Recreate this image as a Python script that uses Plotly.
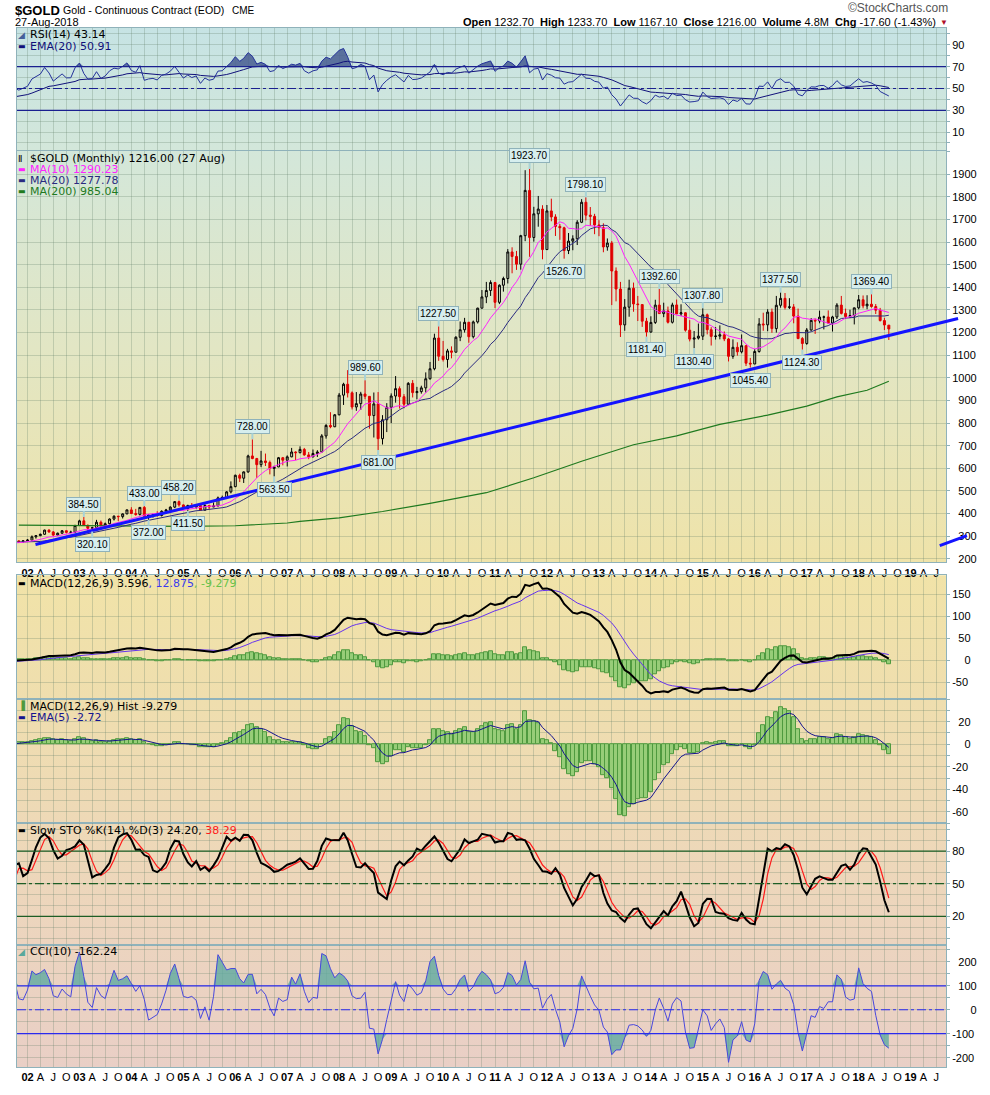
import base64
import numpy as np
import pandas as pd
import plotly.graph_objects as go
from plotly.subplots import make_subplots

# ------------------------------------------------------------------
# Monthly $GOLD bars, Jan 2000 .. Aug 2018
# (2000-01 .. 2001-10 is off screen, only used to warm up the indicators)
# ------------------------------------------------------------------
months = pd.date_range("2000-01-01", "2018-08-01", freq="MS")

opens = [
    288.5, 283.3, 293.7, 276.8, 275.1, 272.3, 288.2, 276.8, 277.0, 273.7, 264.5, 269.1,   # 2000
    272.7, 265.6, 266.7, 258.3, 264.0, 267.5, 270.6, 265.9, 273.0, 293.1, 278.9, 275.5,   # 2001
    279.0, 282.3, 296.9, 302.0, 308.2, 326.6, 318.5, 304.7, 312.8, 323.7, 316.9, 317.1,   # 2002
    347.2, 367.5, 347.5, 334.9, 336.8, 361.4, 346.0, 354.8, 375.6, 388.0, 386.3, 398.4,   # 2003
    416.1, 399.8, 395.9, 427.0, 387.5, 393.5, 395.8, 391.4, 409.8, 415.7, 428.3, 452.5,   # 2004
    438.0, 422.2, 435.5, 428.7, 435.0, 414.5, 435.5, 429.0, 433.3, 469.0, 470.8, 495.7,   # 2005
    518.9, 569.0, 556.0, 584.0, 654.5, 643.0, 616.0, 632.5, 625.5, 599.3, 606.0, 646.7,   # 2006
    635.7, 650.5, 672.0, 669.0, 683.5, 659.1, 650.5, 665.5, 672.0, 743.0, 789.5, 783.5,   # 2007
    836.5, 923.3, 971.5, 933.5, 871.0, 885.8, 928.3, 918.0, 833.0, 884.5, 730.8, 814.5,   # 2008
    869.8, 919.5, 952.0, 916.5, 883.3, 975.5, 934.5, 939.0, 955.5, 995.8, 1040.0, 1175.8,  # 2009
    1095.2, 1081.0, 1118.9, 1113.3, 1179.2, 1212.4, 1245.5, 1181.7, 1247.0, 1307.8, 1357.6, 1386.1,  # 2010
    1421.4, 1333.8, 1409.3, 1439.0, 1556.4, 1536.5, 1502.3, 1628.3, 1828.5, 1620.4, 1725.0, 1746.0,  # 2011
    1566.8, 1737.8, 1711.3, 1669.3, 1663.4, 1562.6, 1604.2, 1614.7, 1687.6, 1776.1, 1719.1, 1713.9,  # 2012
    1675.8, 1663.5, 1578.6, 1595.7, 1472.1, 1392.6, 1234.0, 1312.4, 1396.1, 1326.5, 1323.6, 1250.4,  # 2013
    1202.3, 1244.8, 1321.4, 1283.8, 1295.9, 1245.6, 1322.0, 1282.6, 1287.4, 1210.5, 1171.1, 1175.5,  # 2014
    1184.1, 1278.5, 1212.6, 1183.1, 1184.2, 1190.0, 1171.7, 1095.0, 1134.8, 1114.9, 1142.0, 1064.5,  # 2015
    1061.0, 1116.4, 1238.0, 1234.2, 1290.5, 1217.5, 1320.6, 1351.3, 1311.4, 1313.3, 1272.8, 1173.4,  # 2016
    1151.7, 1211.4, 1253.9, 1251.2, 1268.3, 1268.9, 1242.3, 1269.0, 1321.4, 1284.8, 1270.5, 1274.9,  # 2017
    1309.3, 1345.2, 1318.1, 1325.3, 1315.1, 1299.0, 1253.0, 1232.7,                                  # 2018
]
highs = [
    292.0, 318.0, 300.0, 286.0, 278.0, 294.0, 290.0, 281.0, 278.0, 275.0, 272.0, 275.0,
    274.0, 270.0, 268.0, 265.0, 294.0, 274.0, 272.0, 279.0, 295.0, 294.0, 282.0, 280.5,
    287.5, 303.0, 304.5, 311.0, 328.5, 330.0, 322.5, 316.0, 327.0, 326.0, 324.0, 350.0,
    372.5, 384.5, 352.0, 341.0, 372.0, 369.0, 360.0, 378.5, 392.0, 390.0, 400.5, 417.5,
    428.0, 420.5, 428.0, 433.0, 395.0, 399.0, 410.0, 414.0, 420.5, 431.5, 455.0, 458.2,
    440.0, 439.0, 446.5, 438.0, 437.0, 442.0, 436.0, 449.0, 475.0, 479.0, 499.0, 542.0,
    572.0, 576.0, 586.0, 660.0, 728.0, 646.0, 677.0, 665.0, 634.0, 611.0, 650.0, 650.0,
    657.0, 690.0, 675.0, 697.0, 690.0, 672.0, 683.0, 680.0, 751.0, 795.0, 848.0, 840.0,
    933.0, 978.0, 1033.9, 940.0, 937.0, 938.0, 989.6, 919.0, 935.0, 937.0, 835.0, 888.0,
    931.0, 1007.7, 962.0, 928.0, 981.0, 990.0, 960.0, 965.0, 1024.0, 1070.0, 1195.0, 1227.5,
    1163.0, 1128.0, 1139.0, 1184.0, 1249.0, 1265.0, 1247.0, 1253.0, 1310.0, 1388.0, 1424.0, 1431.0,
    1424.0, 1413.0, 1447.0, 1569.0, 1577.0, 1561.0, 1632.0, 1917.9, 1923.7, 1756.0, 1804.0, 1763.0,
    1764.0, 1792.0, 1723.0, 1680.0, 1668.0, 1640.0, 1630.0, 1697.0, 1790.0, 1798.1, 1755.0, 1725.0,
    1697.0, 1683.0, 1616.0, 1605.0, 1488.0, 1424.0, 1348.0, 1433.8, 1421.0, 1362.0, 1325.0, 1265.0,
    1272.0, 1345.0, 1392.6, 1332.0, 1315.0, 1332.0, 1346.0, 1325.0, 1290.0, 1255.0, 1207.0, 1240.0,
    1307.8, 1284.0, 1224.0, 1224.0, 1232.0, 1205.0, 1176.0, 1170.0, 1157.0, 1191.7, 1142.0, 1088.0,
    1127.0, 1263.9, 1287.8, 1303.0, 1306.0, 1362.0, 1377.5, 1375.0, 1352.0, 1326.0, 1306.0, 1180.0,
    1220.0, 1264.0, 1262.0, 1297.0, 1275.0, 1298.0, 1274.0, 1330.0, 1362.0, 1306.0, 1301.0, 1310.0,
    1366.0, 1364.0, 1365.0, 1369.4, 1326.0, 1309.0, 1265.0, 1233.7,
]
lows = [
    280.0, 282.0, 276.0, 273.0, 269.0, 271.0, 275.0, 270.0, 268.0, 263.0, 262.0, 267.0,
    263.0, 255.0, 255.0, 255.5, 263.0, 264.0, 263.0, 265.0, 270.0, 276.0, 271.5, 271.0,
    277.0, 282.0, 289.0, 300.3, 306.0, 315.0, 301.0, 302.0, 311.5, 312.0, 313.5, 316.0,
    345.5, 345.0, 323.0, 320.1, 335.0, 341.0, 341.5, 352.0, 369.0, 367.0, 378.0, 397.0,
    398.0, 390.0, 391.0, 386.0, 372.0, 382.0, 386.5, 387.0, 398.0, 410.0, 424.0, 430.0,
    419.0, 411.5, 424.0, 421.0, 413.0, 414.0, 417.0, 428.0, 433.0, 460.0, 464.0, 489.0,
    516.0, 539.0, 535.0, 580.0, 640.0, 558.0, 605.0, 610.0, 573.0, 563.5, 605.0, 613.0,
    608.0, 649.0, 636.0, 666.0, 655.0, 640.0, 648.0, 650.0, 672.0, 731.0, 777.0, 782.0,
    834.0, 880.0, 913.0, 860.0, 854.0, 858.0, 905.0, 775.0, 736.0, 681.0, 705.0, 760.0,
    800.0, 890.0, 864.0, 865.0, 882.0, 913.0, 905.0, 930.0, 935.0, 992.0, 1033.0, 1075.0,
    1072.0, 1045.0, 1086.0, 1112.0, 1162.0, 1200.0, 1155.0, 1174.0, 1240.0, 1307.0, 1330.0, 1362.0,
    1308.0, 1326.0, 1381.0, 1417.0, 1462.0, 1477.0, 1478.0, 1604.0, 1535.0, 1602.0, 1668.0, 1523.9,
    1565.0, 1692.0, 1627.0, 1610.0, 1526.7, 1547.0, 1564.0, 1587.0, 1684.0, 1696.0, 1672.0, 1635.0,
    1626.0, 1555.0, 1562.0, 1321.5, 1338.0, 1180.5, 1208.0, 1270.0, 1292.0, 1251.0, 1225.0, 1181.4,
    1200.0, 1238.0, 1283.0, 1268.0, 1240.0, 1240.0, 1282.0, 1273.0, 1204.0, 1161.0, 1130.4, 1169.0,
    1167.0, 1192.0, 1142.6, 1169.0, 1170.0, 1162.0, 1072.3, 1084.0, 1098.0, 1108.0, 1052.0, 1045.4,
    1061.0, 1111.0, 1208.0, 1206.0, 1199.0, 1200.0, 1310.0, 1302.0, 1304.0, 1241.0, 1171.0, 1124.3,
    1146.0, 1208.0, 1194.0, 1241.0, 1214.0, 1238.0, 1204.5, 1260.0, 1280.0, 1260.0, 1264.0, 1236.0,
    1303.0, 1307.0, 1303.0, 1310.0, 1282.0, 1249.0, 1211.0, 1167.1,
]
closes = [
    283.3, 293.7, 276.8, 275.1, 272.3, 288.2, 276.8, 277.0, 273.7, 264.5, 269.1, 272.7,
    265.6, 266.7, 258.3, 264.0, 267.5, 270.6, 265.9, 273.0, 293.1, 278.9, 275.5, 279.0,
    282.3, 296.9, 302.0, 308.2, 326.6, 318.5, 304.7, 312.8, 323.7, 316.9, 317.1, 347.2,
    367.5, 347.5, 334.9, 336.8, 361.4, 346.0, 354.8, 375.6, 388.0, 386.3, 398.4, 416.1,
    399.8, 395.9, 427.0, 387.5, 393.5, 395.8, 391.4, 409.8, 415.7, 428.3, 452.5, 438.0,
    422.2, 435.5, 428.7, 435.0, 414.5, 435.5, 429.0, 433.3, 469.0, 470.8, 495.7, 518.9,
    569.0, 556.0, 584.0, 654.5, 643.0, 616.0, 632.5, 625.5, 599.3, 606.0, 646.7, 635.7,
    650.5, 672.0, 669.0, 683.5, 659.1, 650.5, 665.5, 672.0, 743.0, 789.5, 783.5, 836.5,
    923.3, 971.5, 933.5, 871.0, 885.8, 928.3, 918.0, 833.0, 884.5, 730.8, 814.5, 869.8,
    919.5, 952.0, 916.5, 883.3, 975.5, 934.5, 939.0, 955.5, 995.8, 1040.0, 1175.8, 1095.2,
    1081.0, 1118.9, 1113.3, 1179.2, 1212.4, 1245.5, 1181.7, 1247.0, 1307.8, 1357.6, 1386.1, 1421.4,
    1333.8, 1409.3, 1439.0, 1556.4, 1536.5, 1502.3, 1628.3, 1828.5, 1620.4, 1725.0, 1746.0, 1566.8,
    1737.8, 1711.3, 1669.3, 1663.4, 1562.6, 1604.2, 1614.7, 1687.6, 1776.1, 1719.1, 1713.9, 1675.8,
    1663.5, 1578.6, 1595.7, 1472.1, 1392.6, 1234.0, 1312.4, 1396.1, 1326.5, 1323.6, 1250.4, 1202.3,
    1244.8, 1321.4, 1283.8, 1295.9, 1245.6, 1322.0, 1282.6, 1287.4, 1210.5, 1171.1, 1175.5, 1184.1,
    1278.5, 1212.6, 1183.1, 1184.2, 1190.0, 1171.7, 1095.0, 1134.8, 1114.9, 1142.0, 1064.5, 1061.0,
    1116.4, 1238.0, 1234.2, 1290.5, 1217.5, 1320.6, 1351.3, 1311.4, 1313.3, 1272.8, 1173.4, 1151.7,
    1211.4, 1253.9, 1251.2, 1268.3, 1268.9, 1242.3, 1269.0, 1321.4, 1284.8, 1270.5, 1274.9, 1309.3,
    1345.2, 1318.1, 1325.3, 1315.1, 1299.0, 1253.0, 1233.6, 1216.0,
]

# MA(200) (needs history from the 80s that is not on the chart)
ma200_dates = ["2001-11-01", "2003-01-01", "2004-01-01", "2005-01-01", "2006-01-01", "2007-01-01",
               "2007-04-01", "2008-01-01", "2008-11-01", "2009-10-01", "2010-11-01", "2011-10-01",
               "2012-09-01", "2013-09-01", "2014-07-01", "2015-05-01", "2016-04-01", "2017-01-01",
               "2017-08-01", "2018-03-01", "2018-08-01"]
ma200_values = [349, 347, 345, 343, 346, 358, 365, 381, 409, 445, 492, 558,
                631, 704, 743, 794, 835, 875, 916, 945, 985]

# swing high / low price labels
peak_dates = ["2003-02-01", "2004-04-01", "2004-12-01", "2006-05-01", "2008-07-01", "2009-12-01",
              "2011-09-01", "2012-10-01", "2014-03-01", "2015-01-01", "2016-07-01", "2018-04-01"]
peak_values = [384.5, 433.0, 458.2, 728.0, 989.6, 1227.5, 1923.7, 1798.1, 1392.6, 1307.8, 1377.5, 1369.4]
trough_dates = ["2003-04-01", "2004-05-01", "2005-02-01", "2006-10-01", "2008-10-01", "2012-05-01",
                "2013-12-01", "2014-11-01", "2015-12-01", "2016-12-01"]
trough_values = [320.1, 372.0, 411.5, 563.5, 681.0, 1526.7, 1181.4, 1130.4, 1045.4, 1124.3]

# hand drawn trend lines (date, price)
trend_dates = ["2002-02-26", "2019-12-01"]
trend_prices = [262.7, 1262.0]
stub_dates = ["2019-07-25", "2020-02-01"]
stub_prices = [258.0, 302.0]

# ------------------------------------------------------------------
# Indicators
# ------------------------------------------------------------------
c = pd.Series(closes, index=months)
h = pd.Series(highs, index=months)
l = pd.Series(lows, index=months)

ma10 = c.rolling(10).mean()
ma20 = c.rolling(20).mean()


def wilder_rsi(values, n=14):
    d = np.diff(values)
    g = np.where(d > 0, d, 0.0)
    lo = np.where(d < 0, -d, 0.0)
    out = np.full(len(values), np.nan)
    ag, al = g[:n].mean(), lo[:n].mean()
    out[n] = 100 - 100 / (1 + ag / al)
    for i in range(n, len(d)):
        ag = (ag * (n - 1) + g[i]) / n
        al = (al * (n - 1) + lo[i]) / n
        out[i + 1] = 100 - 100 / (1 + ag / al)
    return pd.Series(out, index=values.index)


rsi = wilder_rsi(c)
rsi_ema = rsi.ewm(span=20, adjust=False).mean()

macd = c.ewm(span=12, adjust=False).mean() - c.ewm(span=26, adjust=False).mean()
signal = macd.ewm(span=9, adjust=False).mean()
hist = macd - signal
hist_ema = hist.ewm(span=5, adjust=False).mean()

hh = h.rolling(14).max()
ll = l.rolling(14).min()
fast_k = 100 * (c - ll) / (hh - ll)
slow_k = fast_k.rolling(3).mean()
slow_d = slow_k.rolling(3).mean()

tp = (h + l + c) / 3
tp_md = tp.rolling(10).apply(lambda w: np.mean(np.abs(w - w.mean())), raw=True)
cci = (tp - tp.rolling(10).mean()) / (0.015 * tp_md)

# ------------------------------------------------------------------
# Page geometry (pixels of the 990 x 1095 page)
# ------------------------------------------------------------------
W, H = 990, 1095
PL, PR, PT, PB = 17, 946, 28, 1076


def px2x(px):
    return (px - PL) / (PR - PL)


def px2y(py):
    return (PB - py) / (PB - PT)


panel_px = [(28, 151), (152, 567), (580, 705), (705, 830), (830, 953), (953, 1076)]
y_ranges = [[-6.4, 105.5], [184, 2003], [-89, 194], [-70, 40], [-6.4, 105.7], [-239, 270]]
x_range = ["2001-10-19", "2019-09-07"]

x0_ts, x1_ts = pd.Timestamp(x_range[0]), pd.Timestamp(x_range[1])


def price2paper(d, v):
    # main panel data -> paper coordinates, so a drawn line may run past the frame
    fx = (pd.Timestamp(d) - x0_ts) / (x1_ts - x0_ts)
    lo_px, hi_px = px2y(panel_px[1][1]), px2y(panel_px[1][0])
    fy = lo_px + (v - y_ranges[1][0]) / (y_ranges[1][1] - y_ranges[1][0]) * (hi_px - lo_px)
    return fx, fy


GRID = "rgba(95,125,105,0.27)"
FRAME = "#8fb2ba"
LEGEND_FONT = "DejaVu Sans"

fig = make_subplots(rows=6, cols=1, shared_xaxes=True, vertical_spacing=0)


def band(row, series, base, color, above):
    s = series.where(series.notna(), base)
    clipped = np.maximum(s, base) if above else np.minimum(s, base)
    fig.add_trace(go.Scatter(x=months, y=[base] * len(months), mode="lines",
                             line=dict(width=0), hoverinfo="skip"), row=row, col=1)
    fig.add_trace(go.Scatter(x=months, y=clipped, mode="lines", line=dict(width=0),
                             fill="tonexty", fillcolor=color, hoverinfo="skip"), row=row, col=1)


# ---- RSI panel
band(1, rsi, 70, "rgba(70,92,145,0.85)", True)
band(1, rsi, 30, "rgba(70,92,145,0.85)", False)
fig.add_trace(go.Scatter(x=months, y=rsi_ema, mode="lines", line=dict(color="#10107a", width=1)), row=1, col=1)
fig.add_trace(go.Scatter(x=months, y=rsi, mode="lines", line=dict(color="#23319a", width=1)), row=1, col=1)

# ---- price panel
fig.add_trace(go.Scatter(x=ma200_dates, y=ma200_values, mode="lines",
                         line=dict(color="#1f7a1f", width=1.2)), row=2, col=1)
fig.add_trace(go.Scatter(x=months, y=ma20, mode="lines", line=dict(color="#2a2a80", width=1)), row=2, col=1)
fig.add_trace(go.Scatter(x=months, y=ma10, mode="lines", line=dict(color="#ff22ff", width=1)), row=2, col=1)
fig.add_trace(go.Candlestick(
    x=months, open=opens, high=highs, low=lows, close=closes, whiskerwidth=0,
    increasing=dict(line=dict(color="black", width=1), fillcolor="rgba(0,0,0,0)"),
    decreasing=dict(line=dict(color="#e00000", width=1), fillcolor="#e00000"),
), row=2, col=1)

# ---- MACD panel
fig.add_trace(go.Bar(x=months, y=hist, marker=dict(color="#97cd78", line=dict(color="#4f9a3f", width=1))),
              row=3, col=1)
fig.add_trace(go.Scatter(x=months, y=signal, mode="lines", line=dict(color="#6633ee", width=1)), row=3, col=1)
fig.add_trace(go.Scatter(x=months, y=macd, mode="lines", line=dict(color="black", width=2)), row=3, col=1)

# ---- MACD histogram panel
fig.add_trace(go.Bar(x=months, y=hist, marker=dict(color="#97cd78", line=dict(color="#4f9a3f", width=1))),
              row=4, col=1)
fig.add_trace(go.Scatter(x=months, y=hist_ema, mode="lines", line=dict(color="#14148f", width=1)), row=4, col=1)

# ---- slow stochastics
fig.add_trace(go.Scatter(x=months, y=slow_d, mode="lines", line=dict(color="#ff1a1a", width=1.2)), row=5, col=1)
fig.add_trace(go.Scatter(x=months, y=slow_k, mode="lines", line=dict(color="black", width=2)), row=5, col=1)

# ---- CCI
band(6, cci, 100, "rgba(95,170,160,0.8)", True)
band(6, cci, -100, "rgba(95,170,160,0.8)", False)
fig.add_trace(go.Scatter(x=months, y=cci, mode="lines", line=dict(color="#4848dd", width=1)), row=6, col=1)

# reference lines
for y, dash in [(70, "solid"), (50, "dashdot"), (30, "solid")]:
    fig.add_hline(y=y, line=dict(color="#1a2090", width=1.2, dash=dash), row=1, col=1)
for y, dash in [(80, "solid"), (50, "dashdot"), (20, "solid")]:
    fig.add_hline(y=y, line=dict(color="#1d5e24", width=1.2, dash=dash), row=5, col=1)
for y, dash in [(100, "solid"), (0, "dashdot"), (-100, "solid")]:
    fig.add_hline(y=y, line=dict(color="#2a2aee", width=1.2, dash=dash), row=6, col=1)

# trend lines (allowed to run over the price scale, like the original)
for dd, vv in [(trend_dates, trend_prices), (stub_dates, stub_prices)]:
    ax0, ay0 = price2paper(dd[0], vv[0])
    ax1, ay1 = price2paper(dd[1], vv[1])
    fig.add_shape(type="line", xref="paper", yref="paper", x0=ax0, y0=ay0, x1=ax1, y1=ay1,
                  line=dict(color="#1414ff", width=3))

# ------------------------------------------------------------------
# Axes
# ------------------------------------------------------------------
quarters = pd.date_range("2002-01-01", "2019-07-01", freq="QS")
q_text = []
for d in quarters:
    if d.month == 1:
        q_text.append("<b>%02d</b>" % (d.year % 100))
    else:
        q_text.append({4: "A", 7: "J", 10: "O"}[d.month])

fig.update_xaxes(range=x_range, tickvals=quarters, ticktext=q_text, showgrid=True, gridcolor=GRID,
                 gridwidth=1, showline=True, mirror=True, linecolor=FRAME, ticks="",
                 showticklabels=False, rangeslider_visible=False,
                 tickfont=dict(family="Liberation Sans", size=11, color="black"))
fig.update_xaxes(showticklabels=True, row=2, col=1)
fig.update_xaxes(showticklabels=True, row=6, col=1)


def pad(v, width):
    s = str(v)
    return "\u2007" * (width - len(s)) + s


tick_sets = [
    (list(range(0, 101, 10)), [10, 30, 50, 70, 90], 2),
    (list(range(200, 2001, 100)), list(range(200, 2000, 100)), 4),
    (list(range(-50, 151, 50)), list(range(-50, 151, 50)), 3),
    (list(range(-70, 41, 10)), [-60, -40, -20, 0, 20], 3),
    (list(range(0, 101, 10)), [20, 50, 80], 2),
    (list(range(-200, 251, 50)), [-200, -100, 0, 100, 200], 4),
]
for i, ((top, bot), rng, (vals, shown, w)) in enumerate(zip(panel_px, y_ranges, tick_sets)):
    fig.update_yaxes(domain=[px2y(bot), px2y(top)], range=rng, side="right",
                     tickvals=vals, ticktext=[pad(v, w) if v in shown else "" for v in vals],
                     showgrid=True, gridcolor=GRID, zeroline=False, showline=True, mirror=True,
                     linecolor=FRAME, ticks="outside", ticklen=3, tickcolor=FRAME,
                     tickfont=dict(family="Liberation Sans", size=11, color="black"),
                     row=i + 1, col=1)

# ------------------------------------------------------------------
# Background gradient + white label strip
# ------------------------------------------------------------------
grad_px = [28, 150, 350, 567, 580, 705, 830, 953, 1076]
grad_col = ["#c6e3e4", "#d3e7da", "#e2e6c4", "#efe3a9", "#f1e3a8", "#efdeae", "#eed9b7", "#ecd4bf", "#e9cfc6"]
stops = "".join("<stop offset='%.4f' stop-color='%s'/>" % ((p - PT) / (PB - PT), col)
                for p, col in zip(grad_px, grad_col))
svg = ("<svg xmlns='http://www.w3.org/2000/svg' width='100' height='1048' viewBox='0 0 100 1048' "
       "preserveAspectRatio='none'><defs><linearGradient id='g' x1='0' y1='0' x2='0' y2='1'>"
       + stops + "</linearGradient></defs><rect width='100' height='1048' fill='url(#g)'/></svg>")
fig.add_layout_image(source="data:image/svg+xml;base64," + base64.b64encode(svg.encode()).decode(),
                     xref="paper", yref="paper", x=0, y=1, sizex=1, sizey=1,
                     xanchor="left", yanchor="top", sizing="stretch", layer="below")
fig.add_shape(type="rect", xref="paper", yref="paper", x0=0, x1=1, y0=px2y(580), y1=px2y(567),
              fillcolor="white", line=dict(width=0), layer="below")

# ------------------------------------------------------------------
# Text
# ------------------------------------------------------------------
def text(px, py, s, size=11, color="black", family="Liberation Sans", anchor="left"):
    fig.add_annotation(x=px2x(px), y=px2y(py), xref="paper", yref="paper", text=s, showarrow=False,
                       xanchor=anchor, yanchor="middle",
                       font=dict(family=family, size=size, color=color))


text(13, 10, "<b>$GOLD</b>", size=13)
text(61, 10, "Gold - Continuous Contract (EOD)", size=10.6)
text(230, 10, "CME", size=10)
text(13, 22, "27-Aug-2018", size=11)
text(938, 22, "<b>Open</b> 1232.70  <b>High</b> 1233.70  <b>Low</b> 1167.10  <b>Close</b> 1216.00  "
     "<b>Volume</b> 4.8M  <b>Chg</b> -17.60 (-1.43%)", size=11, anchor="right")
text(950, 22, "\u25bc", size=8, color="#b0102a", anchor="right")
text(950, 8, "\u00a9StockCharts.com", size=12, color="#555555", anchor="right")


# panel legends
def legend(py, s, color="black", icon=None, icon_color=None):
    if icon:
        text(16, py, icon, size=8 if icon == "\u25ac" else 9, color=icon_color or color, family=LEGEND_FONT)
    text(28, py, s, size=11, color=color, family=LEGEND_FONT)


legend(35, "RSI(14) 43.14", icon="\u25e2", icon_color="#46609a")
legend(47, "EMA(20) 50.91", color="#10107a", icon="\u25ac")
legend(160, "$GOLD (Monthly) 1216.00 (27 Aug)", icon="\u2161")
legend(171, "MA(10) 1290.23", color="#ff22ff", icon="\u25ac")
legend(182, "MA(20) 1277.78", color="#2a2a80", icon="\u25ac")
legend(193, "MA(200) 985.04", color="#1f7a1f", icon="\u25ac")
legend(588, "MACD(12,26,9) 3.596<span style='color:#3a3aee'>, 12.875</span>"
            "<span style='color:#66c24a'>, -9.279</span>", icon="\u25ac")
legend(712, "MACD(12,26,9) Hist -9.279", icon="\u2590", icon_color="#4f9a3f")
legend(723, "EMA(5) -2.72", color="#14148f", icon="\u25ac")
legend(837, "Slow STO %K(14) %D(3) 24.20, <span style='color:#ff1a1a'>38.29</span>", icon="\u25ac")
legend(960, "CCI(10) -162.24", icon="\u25e2", icon_color="#5aa89c")

# swing labels
for dates, values, offset in [(peak_dates, peak_values, -13), (trough_dates, trough_values, 13)]:
    for d, v in zip(dates, values):
        fig.add_annotation(x=d, y=v, xref="x2", yref="y2", text="%.2f" % v, showarrow=True,
                           arrowhead=0, arrowwidth=2, arrowcolor="#a9d2d6", ax=0, ay=offset,
                           bgcolor="#d6eeee", bordercolor="#8fb2ba", borderwidth=1, borderpad=1,
                           font=dict(family="Liberation Sans", size=10, color="black"))

fig.update_layout(
    width=W, height=H, margin=dict(l=PL, r=W - PR, t=PT, b=H - PB),
    paper_bgcolor="white", plot_bgcolor="rgba(0,0,0,0)",
    showlegend=False, bargap=0, hovermode=False,
    font=dict(family="Liberation Sans", size=11, color="black"),
)

# the page body has a default 8px margin; drop it so the chart sits at the page corner
fig.write_html("out.html", config={"displayModeBar": False},
               post_script="document.body.style.margin='0';")
